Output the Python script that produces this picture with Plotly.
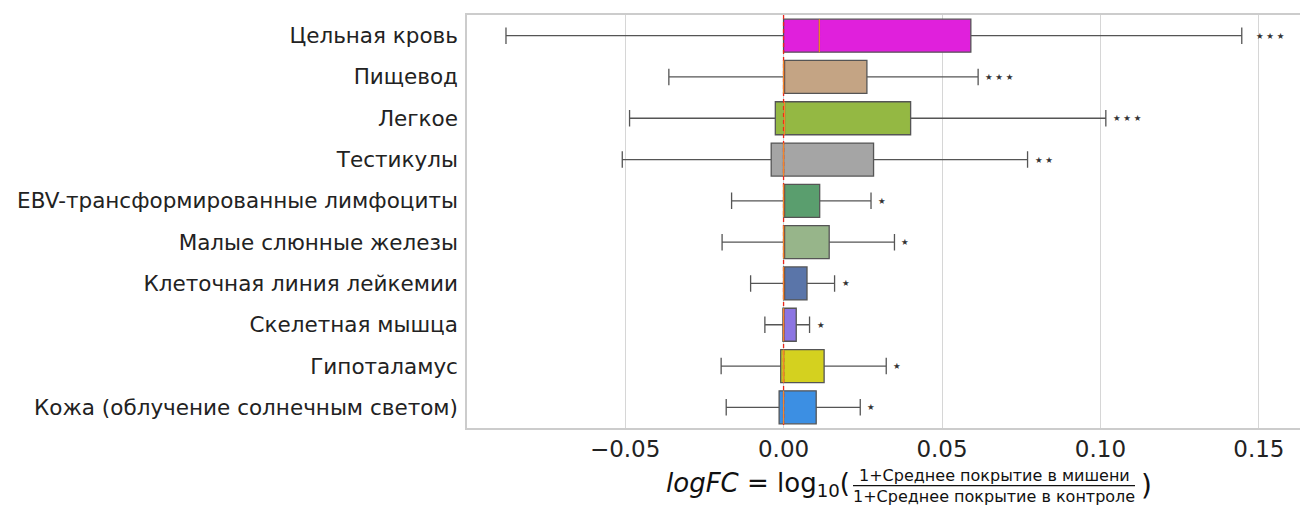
import plotly.graph_objects as go

categories = ["Цельная кровь", "Пищевод", "Легкое", "Тестикулы",
              "EBV-трансформированные лимфоциты", "Малые слюнные железы",
              "Клеточная линия лейкемии", "Скелетная мышца", "Гипоталамус",
              "Кожа (облучение солнечным светом)"]
lower = [-0.0876, -0.0362, -0.0486, -0.0509, -0.0164, -0.0194, -0.0104, -0.0059, -0.0197, -0.0181]
q1 = [0.0, 0.0, -0.0026, -0.0039, 0.0, 0.0, 0.0, -0.0002, -0.0009, -0.0014]
median = [0.0113, 0.0, 0.0003, 0.0, 0.0, 0.0, 0.0, 0.0, 0.0, 0.0]
q3 = [0.0591, 0.0263, 0.0401, 0.0284, 0.0114, 0.0144, 0.0074, 0.0040, 0.0128, 0.0103]
upper = [0.1446, 0.0614, 0.1017, 0.0770, 0.0276, 0.0350, 0.0161, 0.0082, 0.0324, 0.0242]
stars = ["***", "***", "***", "**", "*", "*", "*", "*", "*", "*"]
colors = ["#e020dc", "#c4a484", "#94b843", "#a5a5a5", "#5a9e6e",
          "#97b58a", "#5a75a9", "#8c75e2", "#d4d11f", "#3c8fe3"]
xticks = [-0.05, 0.0, 0.05, 0.10, 0.15]
xticklabels = ["\u22120.05", "0.00", "0.05", "0.10", "0.15"]

fig = go.Figure()
for i, cat in enumerate(categories):
    fig.add_trace(go.Box(
        y=[i], q1=[q1[i]], median=[median[i]], q3=[q3[i]],
        lowerfence=[lower[i]], upperfence=[upper[i]],
        orientation="h", width=0.8, whiskerwidth=0.5,
        fillcolor=colors[i], line=dict(color="#555555", width=1.3),
        boxpoints=False, showlegend=False, hoverinfo="skip", name=cat,
    ))

# zero reference line (red dashed)
fig.add_trace(go.Scatter(x=[0, 0], y=[-0.5, 9.5], mode="lines",
                         line=dict(color="#e8261c", width=1.3, dash="4px,3px"),
                         showlegend=False, hoverinfo="skip"))
# medians (orange)
for i in range(len(categories)):
    fig.add_trace(go.Scatter(x=[median[i], median[i]], y=[i - 0.4, i + 0.4], mode="lines",
                             line=dict(color="#f5862a", width=1.2),
                             showlegend=False, hoverinfo="skip"))

for i, s in enumerate(stars):
    fig.add_annotation(x=upper[i], y=i, xref="x", yref="y",
                       text=" ".join(["\u2605"] * len(s)), showarrow=False,
                       xanchor="left", yanchor="middle", xshift=5 if i else 12,
                       font=dict(size=8.5, color="#333333", family="DejaVu Sans"))

# page is offset by the 8px body margin, so work in page pixels and shift
OFF = 8
W, H = 1308 - OFF, 505 - OFF
L, R, T, B = 467 - OFF, 0, 15 - OFF, 77
pw, ph = W - L - R, H - T - B

def px(xp):
    return (xp - OFF - L) / pw

def py(yp):
    return (H - B - (yp - OFF)) / ph

frac_l, frac_r = 853, 1135
frac_c = (frac_l + frac_r) / 2
fig.add_annotation(x=px(frac_l - 1), y=py(484), xref="paper", yref="paper",
                   text="<i>logFC</i> = log<sub>10</sub>(", showarrow=False,
                   xanchor="right", yanchor="middle",
                   font=dict(size=26, color="#111111", family="DejaVu Sans"))
fig.add_annotation(x=px(frac_c), y=py(487), xref="paper", yref="paper",
                   text="1+Среднее покрытие в мишени", showarrow=False,
                   xanchor="center", yanchor="bottom",
                   font=dict(size=16, color="#111111", family="DejaVu Sans"))
fig.add_annotation(x=px(frac_c), y=py(485), xref="paper", yref="paper",
                   text="1+Среднее покрытие в контроле", showarrow=False,
                   xanchor="center", yanchor="top",
                   font=dict(size=16, color="#111111", family="DejaVu Sans"))
fig.add_annotation(x=px(frac_r + 4), y=py(486), xref="paper", yref="paper",
                   text=")", showarrow=False, xanchor="left", yanchor="middle",
                   font=dict(size=28, color="#111111", family="DejaVu Sans"))
fig.add_shape(type="line", xref="paper", yref="paper",
              x0=px(frac_l), x1=px(frac_r), y0=py(485.7), y1=py(485.7),
              line=dict(color="#111111", width=1.2))

fig.update_layout(
    width=W, height=H,
    margin=dict(l=L, r=R, t=T, b=B, pad=0, autoexpand=False),
    paper_bgcolor="white", plot_bgcolor="white",
    xaxis=dict(range=[-0.0999, 0.1655], tickvals=xticks, ticktext=xticklabels,
               showgrid=True, gridcolor="#d6d6d6", gridwidth=1, zeroline=False,
               showline=True, mirror=True, linecolor="#cccccc", linewidth=1.5,
               ticks="", ticklabelstandoff=0, automargin=False,
               tickfont=dict(size=23, color="#222222", family="DejaVu Sans")),
    yaxis=dict(range=[9.5, -0.5], tickvals=list(range(len(categories))), ticktext=categories,
               showgrid=False, zeroline=False, showline=True, linecolor="#cccccc", linewidth=1.5,
               ticks="", ticklabelstandoff=3, automargin=False,
               tickfont=dict(size=21.5, color="#222222", family="DejaVu Sans")),
)

fig.write_html("out.html")
